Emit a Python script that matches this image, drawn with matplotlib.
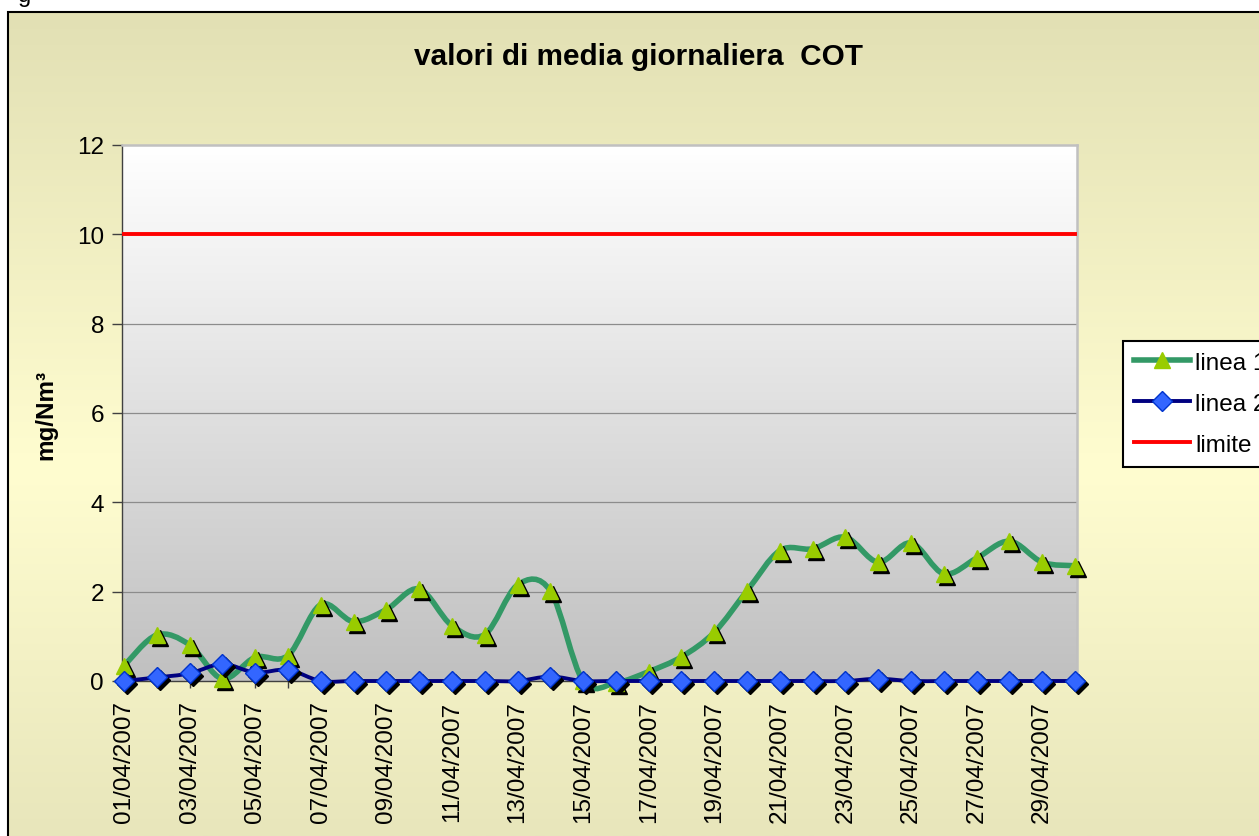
import numpy as np
import matplotlib
matplotlib.use('Agg')
import matplotlib.pyplot as plt
from matplotlib.path import Path
from matplotlib.patches import PathPatch, Rectangle
from matplotlib.lines import Line2D
from matplotlib.colors import LinearSegmentedColormap, to_rgb
import matplotlib.transforms as mtransforms

plt.rcParams['font.family'] = ['Liberation Sans', 'DejaVu Sans']

# dati
giorni = [f"{d:02d}/04/2007" for d in range(1, 31)]
linea1 = [0.34, 1.03, 0.81, 0.05, 0.53, 0.57, 1.71, 1.33, 1.60, 2.06,
          1.24, 1.04, 2.15, 2.02, 0.0, -0.04, 0.21, 0.54, 1.09, 2.02,
          2.92, 2.96, 3.22, 2.66, 3.09, 2.40, 2.75, 3.13, 2.66, 2.58]
linea2 = [0.0, 0.08, 0.17, 0.38, 0.19, 0.25, 0.0, 0.0, 0.0, 0.0,
          0.0, 0.0, 0.0, 0.10, 0.0, 0.0, 0.0, 0.0, 0.0, 0.0,
          0.0, 0.0, 0.0, 0.05, 0.0, 0.0, 0.0, 0.0, 0.0, 0.0]
limite = [10] * 30
y_ticks = [0, 2, 4, 6, 8, 10, 12]

W, H = 1259, 837
fig = plt.figure(figsize=(W / 100, H / 100), dpi=100)
fig.patch.set_facecolor('white')


def fx(px):
    return px / W


def fy(py):
    return 1 - py / H


# sfondo area grafico (gradiente verticale)
bg = fig.add_axes([fx(8), 0, 1 - fx(8), fy(13)], zorder=-5)
bg.set_axis_off()
ys = np.linspace(13, 837, 400)
c_top = np.array(to_rgb('#E2E0B4'))
c_mid = np.array(to_rgb('#FFFDD0'))
c_bot = np.array(to_rgb('#E8E6BB'))
cols = []
for yy in ys:
    if yy < 470:
        t = (yy - 13) / (470 - 13)
        cols.append(c_top + (c_mid - c_top) * t)
    else:
        t = (yy - 470) / (837 - 470)
        cols.append(c_mid + (c_bot - c_mid) * t)
bg.imshow(np.array(cols)[:, None, :], aspect='auto', extent=[0, 1, 0, 1])
bg.set_xlim(0, 1)
bg.set_ylim(0, 1)
fig.patches.append(Rectangle((fx(8), -0.1), 1.2, fy(13) + 0.1, transform=fig.transFigure,
                             fill=False, edgecolor='black', linewidth=1.5, zorder=10))

fig.text(fx(18), fy(2), 'g', fontsize=17, va='baseline', ha='left')

ax = fig.add_axes([fx(122), fy(682), fx(1077) - fx(122), fy(146) - fy(682)])
x = np.arange(len(giorni))
ax.set_xlim(-0.06, len(giorni) - 1 + 0.06)
ax.set_ylim(0, 12)

cm = LinearSegmentedColormap.from_list('pa', ['#C0C0C0', '#FFFFFF'])
ax.imshow(np.linspace(0, 1, 256)[:, None], cmap=cm, aspect='auto', origin='lower',
          extent=[-0.06, len(giorni) - 1 + 0.06, 0, 12], zorder=0)

for t in y_ticks[1:-1]:
    ax.axhline(t, color='#8C8C8C', linewidth=0.9, zorder=1)


def smooth_path(xv, yv):
    p = np.column_stack([xv, yv]).astype(float)
    n = len(p)
    verts = [p[0]]
    codes = [Path.MOVETO]
    for i in range(n - 1):
        p0 = p[max(i - 1, 0)]
        p3 = p[min(i + 2, n - 1)]
        c1 = p[i] + (p[i + 1] - p0) / 6
        c2 = p[i + 1] - (p3 - p[i]) / 6
        verts += [c1, c2, p[i + 1]]
        codes += [Path.CURVE4] * 3
    return Path(verts, codes)


shadow = mtransforms.offset_copy(ax.transData, fig=fig, x=3, y=-3, units='dots')

green = '#339966'
navy = '#000080'

ax.add_patch(PathPatch(smooth_path(x, linea1), fill=False, edgecolor=green,
                       linewidth=4.0, zorder=3, clip_on=False))
ax.plot(x, linea1, ls='none', marker='^', ms=12, color='black', transform=shadow,
        zorder=4, clip_on=False)
ax.plot(x, linea1, ls='none', marker='^', ms=12, mfc='#99CC00', mec='#99CC00',
        zorder=5, clip_on=False)

ax.add_patch(PathPatch(smooth_path(x, linea2), fill=False, edgecolor=navy,
                       linewidth=2.8, zorder=6, clip_on=False))
ax.plot(x, linea2, ls='none', marker='D', ms=10, color='black', transform=shadow,
        zorder=7, clip_on=False)
ax.plot(x, linea2, ls='none', marker='D', ms=10, mfc='#3366FF', mec='#0033CC', mew=1,
        zorder=8, clip_on=False)

ax.plot(x, limite, color='#FF0000', linewidth=2.8, zorder=9)

for s in ['top', 'right']:
    ax.spines[s].set_color('#C0C0C0')
    ax.spines[s].set_linewidth(1.8)
for s in ['left', 'bottom']:
    ax.spines[s].set_color('#404040')
    ax.spines[s].set_linewidth(1.0)
ax.spines['bottom'].set_zorder(2)

ax.set_yticks(y_ticks)
ax.set_yticklabels([str(t) for t in y_ticks], fontsize=17.5)
ax.tick_params(axis='y', direction='out', length=7, width=1, color='#404040', pad=6)
ax.set_xticks(x[::2])
ax.set_xticklabels(giorni[::2], rotation=90, fontsize=17.5)
ax.set_xticks(x, minor=True)
ax.tick_params(axis='x', which='both', direction='out', length=5, width=1,
               color='#404040', pad=9)

fig.text(fx(46), fy(415), 'mg/Nm³', rotation=90, fontsize=17.5, fontweight='bold',
         ha='center', va='center')
fig.text(fx(639), fy(57), 'valori di media giornaliera  COT', fontsize=21.4,
         fontweight='bold', ha='center', va='center')

handles = [
    Line2D([], [], color=green, lw=4.0, marker='^', ms=12, mfc='#99CC00', mec='#99CC00'),
    Line2D([], [], color=navy, lw=2.8, marker='D', ms=10, mfc='#3366FF', mec='#0033CC'),
    Line2D([], [], color='#FF0000', lw=2.8),
]
leg = fig.legend(handles, ['linea 1', 'linea 2', 'limite'], loc='upper left',
                 bbox_to_anchor=(fx(1123), fy(342)), bbox_transform=fig.transFigure,
                 borderaxespad=0, fontsize=17.5, frameon=True, fancybox=False,
                 handlelength=2.3, handletextpad=0.22, borderpad=0.45, labelspacing=0.78)
leg.get_frame().set_edgecolor('black')
leg.get_frame().set_linewidth(1.5)
leg.get_frame().set_facecolor('white')
leg.get_frame().set_alpha(1)

fig.savefig('out.png', dpi=100)
